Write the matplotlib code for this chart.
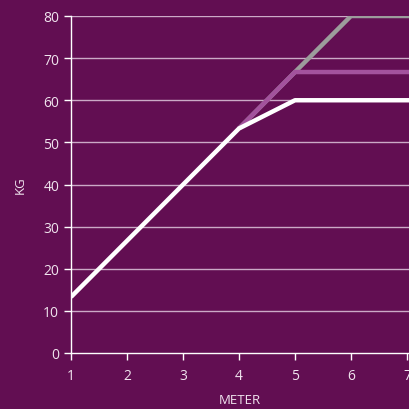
import matplotlib
matplotlib.use("Agg")
import matplotlib.pyplot as plt

plt.rcParams['font.family'] = ['Open Sans', 'DejaVu Sans']

meters = [1, 2, 3, 4, 5, 6, 7]
gray_x = [4, 5, 6, 7, 8]
gray_y = [53.3, 66.7, 80, 80, 80]
pink_x = [4, 5, 6, 7, 8]
pink_y = [53.3, 66.7, 66.7, 66.7, 66.7]
white_x = [1, 4, 5, 6, 7, 8]
white_y = [13.3, 53.3, 60, 60, 60, 60]
yticks = [0, 10, 20, 30, 40, 50, 60, 70, 80]

bg = '#620e52'
txt = '#f0e4ee'

fig = plt.figure(figsize=(4.09, 4.10), dpi=100, facecolor=bg)
ax = fig.add_axes([71/409, 56/410, 1 - 71/409, (354-17)/410])
ax.set_facecolor(bg)

for y in yticks[1:]:
    ax.axhline(y, color='#cbaac7', lw=1, zorder=1)

ax.plot(gray_x, gray_y, color='#9c9c9c', lw=3.2, zorder=3, solid_capstyle='butt')
ax.plot(pink_x, pink_y, color='#a3529d', lw=3.2, zorder=4, solid_capstyle='butt')
ax.plot(white_x, white_y, color='#ffffff', lw=3.2, zorder=5, solid_capstyle='butt')

ax.set_xlim(1, 7.036)
ax.set_ylim(0, 80)
ax.set_xticks(meters)
ax.set_yticks(yticks)
for s in ['top', 'right']:
    ax.spines[s].set_visible(False)
for s in ['left', 'bottom']:
    ax.spines[s].set_color('white')
    ax.spines[s].set_linewidth(1)
ax.tick_params(colors='white', labelcolor=txt, labelsize=10, length=5, width=1)
ax.tick_params(axis='x', pad=6)
ax.set_xlabel('METER', color=txt, fontsize=9.5, labelpad=7)
ax.set_ylabel('KG', color=txt, fontsize=9.5, labelpad=12)
for lab in ax.get_xticklabels() + ax.get_yticklabels():
    lab.set_clip_on(False)

fig.savefig('out.png', dpi=100, facecolor=bg)
